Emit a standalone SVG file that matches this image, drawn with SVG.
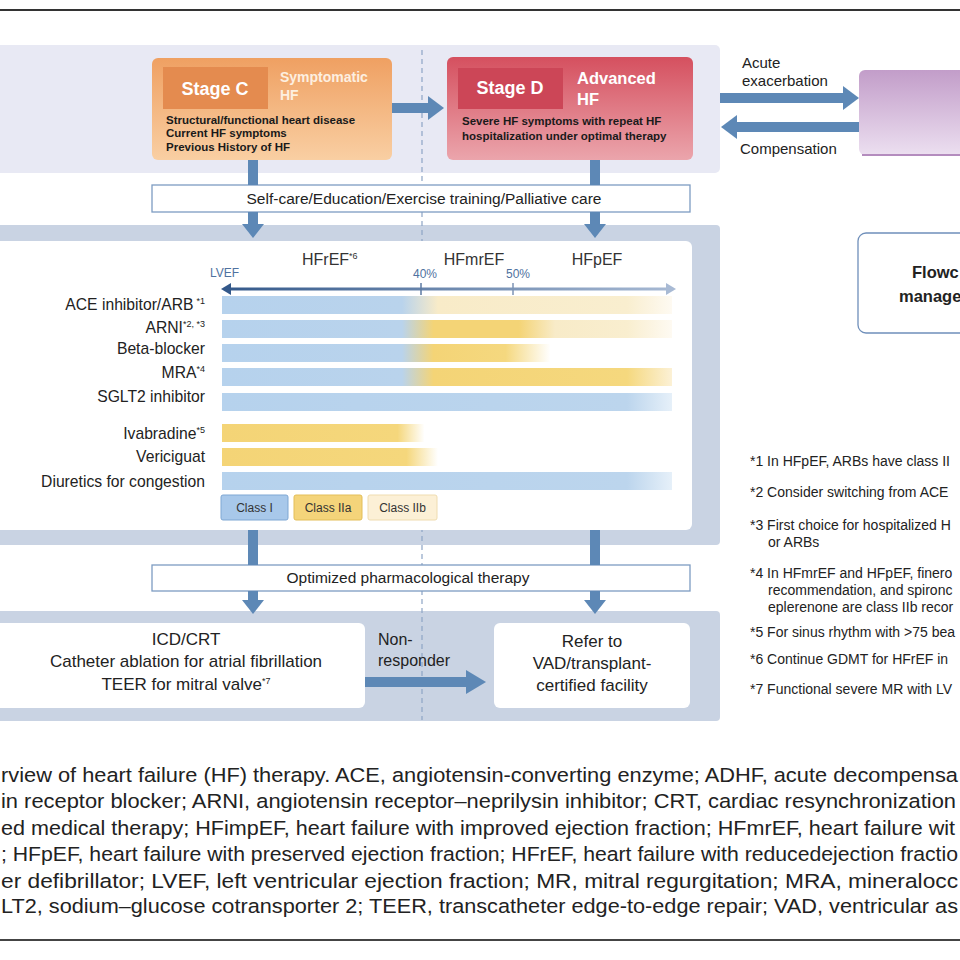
<svg xmlns="http://www.w3.org/2000/svg" width="960" height="960" viewBox="0 0 960 960">
<defs>
<style>
text{font-family:"Liberation Sans",Arial,sans-serif;}
.lbl{font-size:15.7px;fill:#222;text-anchor:end}
.sup{font-size:9px}
.hdr{font-size:16px;fill:#333}
.ax{font-size:12px;fill:#4f72a0}
.fn{font-size:14px;fill:#222}
.cap{font-size:20.5px;fill:#222}
.arr{fill:#5d88b6}
.band{fill:#c9d3e3}
.wbox{fill:#fff}
.bx{fill:#fff;stroke:#7d9cc2;stroke-width:1.3}
.desc{font-size:11.5px;font-weight:bold;fill:#1a1a1a}
.mid{font-size:17px;fill:#222;text-anchor:middle}
.leg{font-size:12px;fill:#333;text-anchor:middle}
.side{font-size:15px;fill:#222}
</style>
<linearGradient id="gC" x1="0" y1="0" x2="0" y2="1"><stop offset="0" stop-color="#efa062"/><stop offset="1" stop-color="#f9cfa3"/></linearGradient>
<linearGradient id="gD" x1="0" y1="0" x2="0" y2="1"><stop offset="0" stop-color="#d5505f"/><stop offset="1" stop-color="#eba5ac"/></linearGradient>
<linearGradient id="gP" x1="0" y1="0" x2="0" y2="1"><stop offset="0" stop-color="#c29dc9"/><stop offset="1" stop-color="#ecdff0"/></linearGradient>
<linearGradient id="gAx" gradientUnits="userSpaceOnUse" x1="222" y1="0" x2="676" y2="0"><stop offset="0" stop-color="#33588a"/><stop offset="1" stop-color="#a8bad4"/></linearGradient>
<linearGradient id="bACE" gradientUnits="userSpaceOnUse" x1="222" y1="0" x2="672" y2="0"><stop offset="0" stop-color="#b6d2ed"/><stop offset="0.40" stop-color="#b9d3ec"/><stop offset="0.48" stop-color="#f8ebc8"/><stop offset="0.9" stop-color="#f9eecf"/><stop offset="1" stop-color="#fefaf2"/></linearGradient>
<linearGradient id="bARNI" gradientUnits="userSpaceOnUse" x1="222" y1="0" x2="672" y2="0"><stop offset="0" stop-color="#b6d2ed"/><stop offset="0.40" stop-color="#b9d3ec"/><stop offset="0.47" stop-color="#f4d476"/><stop offset="0.66" stop-color="#f4d476"/><stop offset="0.74" stop-color="#f8ebc8"/><stop offset="0.9" stop-color="#f9eecf"/><stop offset="1" stop-color="#fefaf2"/></linearGradient>
<linearGradient id="bBB" gradientUnits="userSpaceOnUse" x1="222" y1="0" x2="672" y2="0"><stop offset="0" stop-color="#b6d2ed"/><stop offset="0.40" stop-color="#b9d3ec"/><stop offset="0.47" stop-color="#f4d476"/><stop offset="0.63" stop-color="#f5d87f"/><stop offset="0.73" stop-color="#ffffff"/><stop offset="1" stop-color="#ffffff"/></linearGradient>
<linearGradient id="bMRA" gradientUnits="userSpaceOnUse" x1="222" y1="0" x2="672" y2="0"><stop offset="0" stop-color="#b6d2ed"/><stop offset="0.40" stop-color="#b9d3ec"/><stop offset="0.47" stop-color="#f4d476"/><stop offset="0.9" stop-color="#f5d87e"/><stop offset="1" stop-color="#fcf1d6"/></linearGradient>
<linearGradient id="bBlue" gradientUnits="userSpaceOnUse" x1="222" y1="0" x2="672" y2="0"><stop offset="0" stop-color="#b6d2ed"/><stop offset="0.9" stop-color="#bcd5ed"/><stop offset="1" stop-color="#e6f0f9"/></linearGradient>
<linearGradient id="bIva" gradientUnits="userSpaceOnUse" x1="222" y1="0" x2="672" y2="0"><stop offset="0" stop-color="#f4d476"/><stop offset="0.39" stop-color="#f5d77c"/><stop offset="0.45" stop-color="#ffffff"/><stop offset="1" stop-color="#ffffff"/></linearGradient>
<linearGradient id="bVer" gradientUnits="userSpaceOnUse" x1="222" y1="0" x2="672" y2="0"><stop offset="0" stop-color="#f4d476"/><stop offset="0.41" stop-color="#f5d77c"/><stop offset="0.48" stop-color="#ffffff"/><stop offset="1" stop-color="#ffffff"/></linearGradient>
</defs>

<rect x="0" y="0" width="960" height="960" fill="#fff"/>
<line x1="0" y1="10" x2="960" y2="10" stroke="#333" stroke-width="2"/>
<line x1="0" y1="940" x2="960" y2="940" stroke="#444" stroke-width="2"/>

<g id="bands">
<rect x="-10" y="45" width="730" height="128" rx="5" fill="#e8e9f4"/>
<rect class="band" x="-10" y="225" width="730" height="320" rx="4"/>
<rect class="band" x="-10" y="611" width="730" height="110" rx="4"/>
<line x1="422" y1="50" x2="422" y2="720" stroke="#8ea5c5" stroke-width="1.2" stroke-dasharray="5 4"/>
</g>

<g id="stageC">
<rect x="152" y="58" width="240" height="102" rx="6" fill="url(#gC)"/>
<rect x="163" y="67" width="105" height="42" fill="#e48b4f"/>
<text x="215" y="95" font-size="18" font-weight="bold" fill="#fff" text-anchor="middle">Stage C</text>
<text x="280" y="82" font-size="14" font-weight="bold" fill="#fdefe0">Symptomatic</text>
<text x="280" y="100" font-size="14" font-weight="bold" fill="#fdefe0">HF</text>
<text class="desc" x="166" y="124">Structural/functional heart disease</text>
<text class="desc" x="166" y="137">Current HF symptoms</text>
<text class="desc" x="166" y="151">Previous History of HF</text>
</g>

<g id="stageD">
<rect x="447" y="57" width="246" height="103" rx="6" fill="url(#gD)"/>
<rect x="458" y="68" width="105" height="41" fill="#cc4657"/>
<text x="510" y="94" font-size="18" font-weight="bold" fill="#fff" text-anchor="middle">Stage D</text>
<text x="577" y="84" font-size="16.5" font-weight="bold" fill="#fff">Advanced</text>
<text x="577" y="105" font-size="16.5" font-weight="bold" fill="#fff">HF</text>
<text class="desc" x="462" y="125">Severe HF symptoms with repeat HF</text>
<text class="desc" x="462" y="140">hospitalization under optimal therapy</text>
</g>

<g id="adhf">
<rect x="859" y="70" width="120" height="85" rx="6" fill="url(#gP)"/>
<line x1="862" y1="155" x2="960" y2="155" stroke="#b48cbe" stroke-width="2"/>
</g>

<g id="flowchart">
<rect x="858" y="233" width="130" height="100" rx="8" fill="#fff" stroke="#6f8fba" stroke-width="1.3"/>
<text x="912" y="278" font-size="16.5" font-weight="bold" fill="#222">Flowc</text>
<text x="899" y="302" font-size="16.5" font-weight="bold" fill="#222">manage</text>
</g>

<g id="selfcare">
<rect class="bx" x="152" y="185" width="538" height="27"/>
<text x="424" y="204" font-size="15.5" fill="#222" text-anchor="middle">Self-care/Education/Exercise training/Palliative care</text>
</g>

<g id="drugs">
<rect class="wbox" x="-10" y="241" width="702" height="289" rx="6"/>
<text class="hdr" x="302" y="265">HFrEF<tspan class="sup" dy="-6">*6</tspan></text>
<text class="hdr" x="474" y="265" text-anchor="middle">HFmrEF</text>
<text class="hdr" x="597" y="265" text-anchor="middle">HFpEF</text>
<text class="ax" x="210" y="277">LVEF</text>
<text class="ax" x="413" y="278">40%</text>
<text class="ax" x="506" y="278">50%</text>
<line x1="228" y1="289" x2="670" y2="289" stroke="url(#gAx)" stroke-width="3"/>
<polygon points="221,289 231,283 231,295" fill="#33588a"/>
<polygon points="676,289 666,283 666,295" fill="#a8bad4"/>
<line x1="421" y1="283" x2="421" y2="295" stroke="#5d7aa3" stroke-width="1.5"/>
<line x1="513" y1="283" x2="513" y2="295" stroke="#7d93b5" stroke-width="1.5"/>

<rect x="222" y="296" width="450" height="18" fill="url(#bACE)"/>
<rect x="222" y="320" width="450" height="18" fill="url(#bARNI)"/>
<rect x="222" y="344" width="450" height="18" fill="url(#bBB)"/>
<rect x="222" y="368" width="450" height="18" fill="url(#bMRA)"/>
<rect x="222" y="393" width="450" height="18" fill="url(#bBlue)"/>
<rect x="222" y="424" width="450" height="18" fill="url(#bIva)"/>
<rect x="222" y="448" width="450" height="18" fill="url(#bVer)"/>
<rect x="222" y="472" width="450" height="18" fill="url(#bBlue)"/>

<text class="lbl" x="205" y="310">ACE inhibitor/ARB<tspan class="sup" dx="3" dy="-6">*1</tspan></text>
<text class="lbl" x="205" y="333">ARNI<tspan class="sup" dy="-6">*2, *3</tspan></text>
<text class="lbl" x="205" y="354">Beta-blocker</text>
<text class="lbl" x="205" y="378">MRA<tspan class="sup" dy="-6">*4</tspan></text>
<text class="lbl" x="205" y="402">SGLT2 inhibitor</text>
<text class="lbl" x="205" y="439">Ivabradine<tspan class="sup" dy="-6">*5</tspan></text>
<text class="lbl" x="205" y="462">Vericiguat</text>
<text class="lbl" x="205" y="487">Diuretics for congestion</text>

<rect x="221" y="495" width="67" height="25" rx="2" fill="#a8c8ea" stroke="#7fa7d3"/>
<rect x="294" y="495" width="68" height="25" rx="2" fill="#f4d47a" stroke="#e3be58"/>
<rect x="368" y="495" width="69" height="25" rx="2" fill="#fcf0d6" stroke="#efdcb0"/>
<text class="leg" x="254.5" y="512">Class I</text>
<text class="leg" x="328" y="512">Class IIa</text>
<text class="leg" x="402.5" y="512">Class IIb</text>
</g>

<g id="optimized">
<rect class="bx" x="152" y="565" width="538" height="26"/>
<text x="408" y="583" font-size="15.5" fill="#222" text-anchor="middle">Optimized pharmacological  therapy</text>
</g>

<g id="devices">
<rect class="wbox" x="-10" y="623" width="375" height="85" rx="6"/>
<text class="mid" x="186" y="645">ICD/CRT</text>
<text class="mid" x="186" y="667">Catheter ablation for atrial fibrillation</text>
<text class="mid" x="186" y="690">TEER for mitral valve<tspan font-size="9" dy="-6">*7</tspan></text>
</g>

<g id="refer">
<rect class="wbox" x="494" y="623" width="196" height="85" rx="6"/>
<text class="mid" x="592" y="647">Refer to</text>
<text class="mid" x="592" y="669">VAD/transplant-</text>
<text class="mid" x="592" y="691">certified facility</text>
</g>

<g id="connectors">
<rect class="arr" x="392" y="103" width="37" height="10"/>
<polygon class="arr" points="428,96 444,108 428,120"/>
<rect class="arr" x="720" y="93" width="124" height="10"/>
<polygon class="arr" points="843,86 859,98 843,110"/>
<rect class="arr" x="736" y="122" width="123" height="10"/>
<polygon class="arr" points="737,115 721,127 737,139"/>
<text class="side" x="742" y="68">Acute</text>
<text class="side" x="742" y="86">exacerbation</text>
<text class="side" x="740" y="154">Compensation</text>

<rect class="arr" x="248" y="160" width="10" height="25"/>
<rect class="arr" x="590" y="160" width="10" height="25"/>
<rect class="arr" x="248" y="212" width="10" height="13"/>
<polygon class="arr" points="242,224 264,224 253,238"/>
<rect class="arr" x="590" y="212" width="10" height="13"/>
<polygon class="arr" points="584,224 606,224 595,238"/>

<rect class="arr" x="248" y="530" width="10" height="35"/>
<rect class="arr" x="590" y="530" width="10" height="35"/>
<rect class="arr" x="248" y="591" width="10" height="10"/>
<polygon class="arr" points="242,600 264,600 253,614"/>
<rect class="arr" x="590" y="591" width="10" height="10"/>
<polygon class="arr" points="584,600 606,600 595,614"/>

<rect class="arr" x="365" y="677" width="102" height="10"/>
<polygon class="arr" points="466,670 486,682 466,694"/>
<text x="378" y="645" font-size="16" fill="#222">Non-</text>
<text x="378" y="666" font-size="16" fill="#222">responder</text>
</g>

<g id="footnotes">
<text class="fn" x="750" y="466">*1 In HFpEF, ARBs have class II</text>
<text class="fn" x="750" y="497">*2 Consider switching from ACE</text>
<text class="fn" x="750" y="530">*3 First choice for hospitalized H</text>
<text class="fn" x="768" y="547">or ARBs</text>
<text class="fn" x="750" y="578">*4 In HFmrEF and HFpEF, finero</text>
<text class="fn" x="768" y="595">recommendation, and spironc</text>
<text class="fn" x="768" y="612">eplerenone are class IIb recor</text>
<text class="fn" x="750" y="637">*5 For sinus rhythm with &gt;75 bea</text>
<text class="fn" x="750" y="664">*6 Continue GDMT for HFrEF in</text>
<text class="fn" x="750" y="694">*7 Functional severe MR with LV</text>
</g>

<g id="caption">
<text class="cap" x="1" y="782" textLength="957" lengthAdjust="spacingAndGlyphs">rview of heart failure (HF) therapy. ACE, angiotensin-converting enzyme; ADHF, acute decompensa</text>
<text class="cap" x="1" y="808" textLength="955" lengthAdjust="spacingAndGlyphs">in receptor blocker; ARNI, angiotensin receptor–neprilysin inhibitor; CRT, cardiac resynchronization</text>
<text class="cap" x="1" y="835" textLength="954" lengthAdjust="spacingAndGlyphs">ed medical therapy; HFimpEF, heart failure with improved ejection fraction; HFmrEF, heart failure wit</text>
<text class="cap" x="1" y="861" textLength="957" lengthAdjust="spacingAndGlyphs">; HFpEF, heart failure with preserved ejection fraction; HFrEF, heart failure with reducedejection fractio</text>
<text class="cap" x="1" y="888" textLength="957" lengthAdjust="spacingAndGlyphs">er defibrillator; LVEF, left ventricular ejection fraction; MR, mitral regurgitation; MRA, mineralocc</text>
<text class="cap" x="1" y="913" textLength="957" lengthAdjust="spacingAndGlyphs">LT2, sodium–glucose cotransporter 2; TEER, transcatheter edge-to-edge repair; VAD, ventricular as</text>
</g>
</svg>
